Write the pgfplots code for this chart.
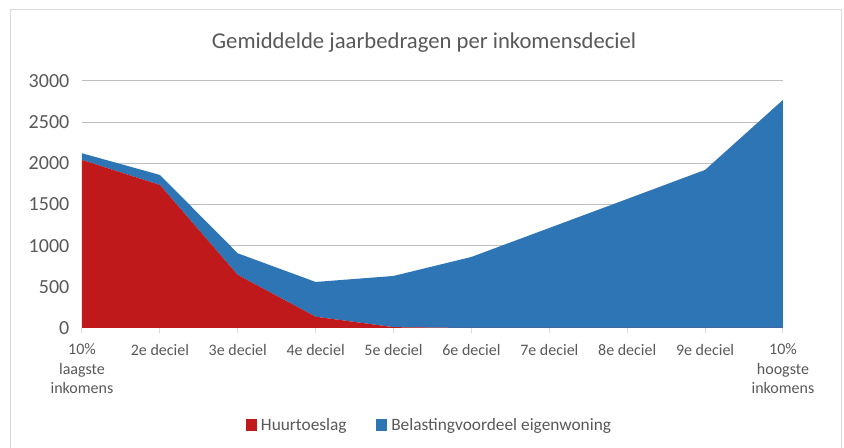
\documentclass[border=0pt]{standalone}
\usepackage{pgfplots}
\pgfplotsset{compat=1.18}
\usepackage{fontspec}
\setmainfont{Carlito}
\definecolor{hred}{HTML}{C0191C}
\definecolor{hblue}{HTML}{2E75B6}
\definecolor{txt}{HTML}{595959}
\definecolor{grid}{HTML}{D9D9D9}
\begin{document}
\begin{tikzpicture}
\path[use as bounding box] (0pt,0pt) rectangle (633pt,336pt);
\fill[white] (0pt,0pt) rectangle (633pt,336pt);
\draw[grid,line width=0.75pt] (7.5pt,-2pt) -- (7.5pt,328.5pt) -- (630.75pt,328.5pt) -- (630.75pt,-2pt);
\node[text=txt,font=\fontsize{17}{20}\selectfont] at (318pt,303.75pt) {Gemiddelde jaarbedragen per inkomensdeciel};
\begin{axis}[
  at={(61.5pt,90pt)}, anchor=south west,
  scale only axis, width=525.75pt, height=185.25pt,
  xmin=0, xmax=9, ymin=0, ymax=3000,
  enlargelimits=false,
  stack plots=y,
  axis x line*=bottom, axis y line*=left,
  y axis line style={draw=none},
  x axis line style={grid, line width=0.75pt},
  ytick={0,500,...,3000},
  ymajorgrids, xmajorgrids=false,
  grid style={grid, line width=0.75pt},
  ytick style={draw=none},
  xtick={0,...,9},
  xtick align=outside,
  xtick style={grid, line width=0.75pt},
  major tick length=4pt,
  xticklabels={{10\%\\laagste\\inkomens},{2e deciel},{3e deciel},{4e deciel},{5e deciel},{6e deciel},{7e deciel},{8e deciel},{9e deciel},{10\%\\hoogste\\inkomens}},
  xticklabel style={align=center, text=txt, font=\fontsize{12}{14.4}\selectfont, yshift=-4.5pt},
  yticklabel style={text=txt, font=\fontsize{15}{17}\selectfont, xshift=-6pt},
  /pgf/number format/assume math mode=true,
  scaled y ticks=false,
  /pgf/number format/set thousands separator={},
  legend style={at={(0.496,-0.393)}, anchor=center, draw=none, legend columns=2,
    font=\fontsize{13}{15}\selectfont, text=txt,
    /tikz/every odd column/.append style={column sep=1pt},
    /tikz/every even column/.append style={column sep=20pt}},
  legend image code/.code={\fill[#1] (0pt,-4.2pt) rectangle (8.5pt,4.2pt);},
]
\addplot[fill=hred, draw=none] coordinates {(0,2041) (1,1737) (2,644) (3,137) (4,10) (5,0) (6,0) (7,0) (8,0) (9,0)} \closedcycle;
\addlegendentry{Huurtoeslag}
\addplot[fill=hblue, draw=none] coordinates {(0,81) (1,122) (2,263) (3,422) (4,622) (5,863) (6,1215) (7,1567) (8,1920) (9,2770)} \closedcycle;
\addlegendentry{Belastingvoordeel eigenwoning}
\end{axis}
\end{tikzpicture}
\end{document}
